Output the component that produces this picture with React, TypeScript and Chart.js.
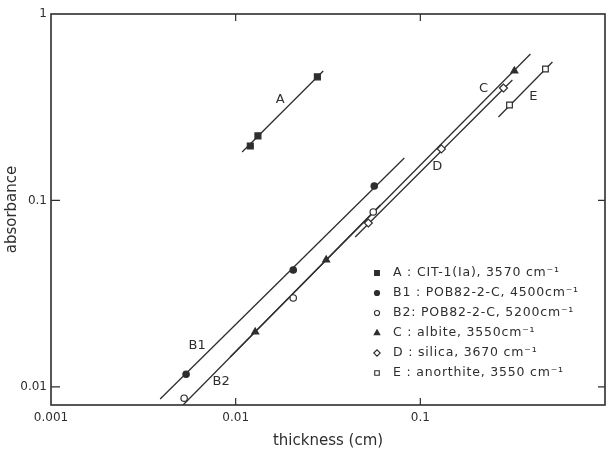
import React, { useEffect, useRef } from 'react';
import { Chart, registerables } from 'chart.js';
import { drawPoint } from 'chart.js/helpers';

Chart.register(...registerables);

const INK = '#2e2e2e';
const FONT = "'DejaVu Sans', sans-serif";

// ---- data ----
const seriesNames = ['A', 'B1', 'B2', 'C', 'D', 'E'];
const legendTexts = [
  'A : CIT-1(Ia), 3570 cm⁻¹',
  'B1 : POB82-2-C, 4500cm⁻¹',
  'B2: POB82-2-C, 5200cm⁻¹',
  'C : albite, 3550cm⁻¹',
  'D : silica, 3670 cm⁻¹',
  'E : anorthite, 3550 cm⁻¹',
];

const thicknessA = [0.012, 0.0132, 0.0277];
const absorbanceA = [0.196, 0.222, 0.46];
const thicknessB1 = [0.00539, 0.0205, 0.0563];
const absorbanceB1 = [0.0117, 0.0424, 0.1196];
const thicknessB2 = [0.00526, 0.0205, 0.0556];
const absorbanceB2 = [0.0087, 0.03, 0.0868];
const thicknessC = [0.01276, 0.0309, 0.323];
const absorbanceC = [0.0197, 0.048, 0.495];
const thicknessD = [0.0523, 0.13, 0.282];
const absorbanceD = [0.0757, 0.189, 0.401];
const thicknessE = [0.304, 0.476];
const absorbanceE = [0.325, 0.507];

// fitted straight lines (end points)
const fitThicknessA = [0.01084, 0.0298];
const fitAbsorbanceA = [0.182, 0.495];
const fitThicknessB1 = [0.0039, 0.0819];
const fitAbsorbanceB1 = [0.00862, 0.169];
const fitThicknessB2 = [0.00519, 0.0607];
const fitAbsorbanceB2 = [0.008, 0.0946];
const fitThicknessC = [0.00934, 0.3948];
const fitAbsorbanceC = [0.01448, 0.61];
const fitThicknessD = [0.0444, 0.3151];
const fitAbsorbanceD = [0.0637, 0.4427];
const fitThicknessE = [0.2648, 0.5193];
const fitAbsorbanceE = [0.2804, 0.553];

// in-plot line labels (data coordinates)
const lineLabelText = ['A', 'B1', 'B2', 'C', 'D', 'E'];
const lineLabelThickness = [0.01742, 0.00618, 0.00834, 0.2196, 0.1236, 0.4099];
const lineLabelAbsorbance = [0.3458, 0.01659, 0.01063, 0.396, 0.1512, 0.3589];

// axes
const xTickValues = [0.001, 0.01, 0.1];
const xTickLabels = ['0.001', '0.01', '0.1'];
const yTickValues = [0.01, 0.1, 1];
const yTickLabels = ['0.01', '0.1', '1'];
const innerTickX = [0.01, 0.1];
const innerTickY = [0.01, 0.1];

const pointThickness = [thicknessA, thicknessB1, thicknessB2, thicknessC, thicknessD, thicknessE];
const pointAbsorbance = [absorbanceA, absorbanceB1, absorbanceB2, absorbanceC, absorbanceD, absorbanceE];
const fitThickness = [fitThicknessA, fitThicknessB1, fitThicknessB2, fitThicknessC, fitThicknessD, fitThicknessE];
const fitAbsorbance = [fitAbsorbanceA, fitAbsorbanceB1, fitAbsorbanceB2, fitAbsorbanceC, fitAbsorbanceD, fitAbsorbanceE];

// marker styles
const markerStyle = ['rect', 'circle', 'circle', 'triangle', 'rectRot', 'rect'];
const markerFilled = [true, true, false, true, false, false];
const markerRadius = [4.2, 3.2, 3.2, 4, 4, 4];

const decorPlugin = {
  id: 'decor',
  afterDatasetsDraw(chart: any) {
    const { ctx, chartArea: a, scales } = chart;
    const xs = scales.x;
    const ys = scales.y;
    ctx.save();
    ctx.strokeStyle = INK;
    ctx.lineWidth = 1.6;
    ctx.strokeRect(a.left, a.top, a.right - a.left, a.bottom - a.top);
    ctx.lineWidth = 1.2;
    ctx.beginPath();
    innerTickX.forEach((v) => {
      const px = xs.getPixelForValue(v);
      ctx.moveTo(px, a.bottom);
      ctx.lineTo(px, a.bottom - 7);
      ctx.moveTo(px, a.top);
      ctx.lineTo(px, a.top + 7);
    });
    innerTickY.forEach((v) => {
      const py = ys.getPixelForValue(v);
      ctx.moveTo(a.left, py);
      ctx.lineTo(a.left + 9, py);
      ctx.moveTo(a.right, py);
      ctx.lineTo(a.right - 7, py);
    });
    ctx.stroke();

    // line labels
    ctx.fillStyle = INK;
    ctx.font = `13px ${FONT}`;
    ctx.textAlign = 'center';
    ctx.textBaseline = 'middle';
    lineLabelText.forEach((t, i) => {
      ctx.fillText(t, xs.getPixelForValue(lineLabelThickness[i]), ys.getPixelForValue(lineLabelAbsorbance[i]));
    });

    // legend
    const mx = a.right - 228;
    const ty = a.bottom - 132;
    ctx.font = `12.5px ${FONT}`;
    ctx.textAlign = 'left';
    (ctx as any).letterSpacing = '0.8px';
    legendTexts.forEach((t, i) => {
      const y = ty + i * 20;
      ctx.fillStyle = markerFilled[i] ? INK : '#ffffff';
      ctx.strokeStyle = INK;
      ctx.lineWidth = 1.1;
      drawPoint(ctx, { pointStyle: markerStyle[i] as any, rotation: 0, radius: markerRadius[i] * 0.8, borderWidth: 1.1 }, mx, y);
      ctx.fillStyle = INK;
      ctx.fillText(t, mx + 16, y);
    });
    ctx.restore();
  },
};

export default function App() {
  const ref = useRef<HTMLCanvasElement | null>(null);
  useEffect(() => {
    document.body.style.margin = '0';
    const canvas = ref.current;
    if (!canvas) return;
    const datasets: any[] = [];
    seriesNames.forEach((name, i) => {
      datasets.push({
        label: name + ' fit',
        data: fitThickness[i].map((x, j) => ({ x, y: fitAbsorbance[i][j] })),
        showLine: true,
        pointRadius: 0,
        borderColor: INK,
        borderWidth: 1.3,
        fill: false,
        order: 2,
      });
      datasets.push({
        label: name,
        data: pointThickness[i].map((x, j) => ({ x, y: pointAbsorbance[i][j] })),
        showLine: false,
        pointStyle: markerStyle[i],
        pointRadius: markerRadius[i],
        pointBackgroundColor: markerFilled[i] ? INK : '#ffffff',
        pointBorderColor: INK,
        pointBorderWidth: 1.2,
        order: 1,
      });
    });
    const chart = new Chart(canvas, {
      type: 'scatter',
      data: { datasets },
      options: {
        animation: false,
        responsive: false,
        devicePixelRatio: 1,
        layout: { autoPadding: false, padding: { top: 14, right: 2, left: 0, bottom: 0 } },
        plugins: { legend: { display: false }, tooltip: { enabled: false } },
        scales: {
          x: {
            type: 'logarithmic',
            min: 0.001,
            max: 1,
            afterBuildTicks: (s: any) => {
              s.ticks = xTickValues.map((v) => ({ value: v }));
            },
            afterFit: (s: any) => {
              s.height = 51;
              s.paddingLeft = 0;
              s.paddingRight = 0;
            },
            grid: { display: false, drawTicks: false },
            border: { display: false },
            ticks: {
              autoSkip: false,
              maxRotation: 0,
              color: INK,
              padding: 6,
              font: { family: FONT, size: 12 },
              callback: (_v: any, i: number) => xTickLabels[i],
            },
            title: {
              display: true,
              text: 'thickness (cm)',
              color: INK,
              font: { family: FONT, size: 15 },
              padding: { top: 0, bottom: 6 },
            },
          },
          y: {
            type: 'logarithmic',
            min: 0.008,
            max: 1,
            afterBuildTicks: (s: any) => {
              s.ticks = yTickValues.map((v) => ({ value: v }));
            },
            afterFit: (s: any) => {
              s.width = 51;
              s.paddingTop = 0;
              s.paddingBottom = 0;
            },
            grid: { display: false, drawTicks: false },
            border: { display: false },
            ticks: {
              autoSkip: false,
              color: INK,
              padding: 4,
              font: { family: FONT, size: 12 },
              callback: (_v: any, i: number) => yTickLabels[i],
            },
            title: {
              display: true,
              text: 'absorbance',
              color: INK,
              font: { family: FONT, size: 15 },
              padding: { top: 3, bottom: 0 },
            },
          },
        },
      },
      plugins: [decorPlugin],
    } as any);
    return () => chart.destroy();
  }, []);
  return <canvas ref={ref} width={607} height={456} style={{ display: 'block', width: 607, height: 456 }} />;
}
